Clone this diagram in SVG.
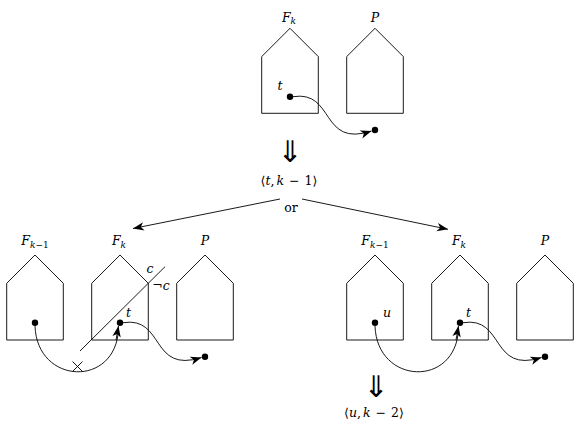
<svg xmlns="http://www.w3.org/2000/svg" xmlns:xlink="http://www.w3.org/1999/xlink" width="581" height="446" viewBox="0 0 581 446">
<style>
.h{fill:none;stroke:#000;stroke-width:0.9}
.ln{fill:none;stroke:#000;stroke-width:0.9}
text{font-family:'DejaVu Serif',serif;font-size:12.5px;fill:#000}
.i{font-style:italic}
.s{font-size:9px}
.d{fill:#000}
.arr{font-family:'DejaVu Sans',sans-serif;font-size:30px;font-weight:normal}
</style>
<defs>
<path id="house" d="M-28.3,28.3 L0,0 L28.3,28.3 L28.3,85 L-28.3,85 Z"/>
<marker id="st" viewBox="-12 -5 13 10" refX="0" refY="0" markerWidth="13" markerHeight="10" markerUnits="userSpaceOnUse" orient="auto">
<path d="M0,0 L-11,-4.2 L-8,0 L-11,4.2 Z" fill="#000"/>
</marker>
</defs>

<g id="top-Fk">
<use xlink:href="#house" class="h" transform="translate(290,28.3)"/>
<text x="289" y="21.5" text-anchor="middle"><tspan class="i">F</tspan><tspan class="s i" dy="2.5">k</tspan></text>
<circle class="d" cx="290" cy="96.7" r="3.2"/>
<text class="i" x="280" y="90" text-anchor="middle">t</text>
</g>
<g id="top-P">
<use xlink:href="#house" class="h" transform="translate(375,28.3)"/>
<text class="i" x="375" y="21.5" text-anchor="middle">P</text>
</g>
<g id="top-target"><circle class="d" cx="375" cy="130" r="3.2"/></g>

<g id="step1">
<text class="arr" x="290" y="162" text-anchor="middle">⇓</text>
<text x="289" y="185" text-anchor="middle">⟨<tspan class="i">t</tspan>,<tspan class="i" dx="2">k</tspan> <tspan dx="1">−</tspan> <tspan dx="1">1</tspan>⟩</text>
<text x="291" y="212" text-anchor="middle">or</text>
</g>

<g id="left-Fk1">
<use xlink:href="#house" class="h" transform="translate(35,255)"/>
<text x="35" y="245" text-anchor="middle"><tspan class="i">F</tspan><tspan class="s" dy="2.5"><tspan class="i">k</tspan>−1</tspan></text>
<circle class="d" cx="35" cy="322.7" r="3.2"/>
</g>
<g id="left-Fk">
<use xlink:href="#house" class="h" transform="translate(120,255)"/>
<text x="119" y="245" text-anchor="middle"><tspan class="i">F</tspan><tspan class="s i" dy="2.5">k</tspan></text>
<circle class="d" cx="120" cy="322.7" r="3.2"/>
<text class="i" x="128.5" y="317" text-anchor="middle">t</text>
</g>
<g id="left-P">
<use xlink:href="#house" class="h" transform="translate(205,255)"/>
<text class="i" x="205" y="245" text-anchor="middle">P</text>
</g>
<g id="left-target"><circle class="d" cx="205" cy="356.7" r="3.2"/></g>
<g id="cut">
<path class="ln" d="M80,351 L165,266.7"/>
<text class="i" x="150" y="273" text-anchor="middle">c</text>
<text x="161" y="290" text-anchor="middle">¬<tspan class="i">c</tspan></text>
</g>

<g id="right-Fk1">
<use xlink:href="#house" class="h" transform="translate(375,255)"/>
<text x="375" y="245" text-anchor="middle"><tspan class="i">F</tspan><tspan class="s" dy="2.5"><tspan class="i">k</tspan>−1</tspan></text>
<circle class="d" cx="375" cy="322.7" r="3.2"/>
<text class="i" x="387" y="317" text-anchor="middle">u</text>
</g>
<g id="right-Fk">
<use xlink:href="#house" class="h" transform="translate(460,255)"/>
<text x="459" y="245" text-anchor="middle"><tspan class="i">F</tspan><tspan class="s i" dy="2.5">k</tspan></text>
<circle class="d" cx="460" cy="322.7" r="3.2"/>
<text class="i" x="468.5" y="317" text-anchor="middle">t</text>
</g>
<g id="right-P">
<use xlink:href="#house" class="h" transform="translate(545,255)"/>
<text class="i" x="545" y="245" text-anchor="middle">P</text>
</g>
<g id="right-target"><circle class="d" cx="545" cy="356.7" r="3.2"/></g>
<g id="step2">
<text class="arr" x="376" y="397" text-anchor="middle">⇓</text>
<text x="374" y="417" text-anchor="middle">⟨<tspan class="i">u</tspan>,<tspan class="i" dx="2">k</tspan> <tspan dx="1">−</tspan> <tspan dx="1">2</tspan>⟩</text>
</g>

<g id="connectors">
<path class="ln" marker-end="url(#st)" d="M293,96.7 C335,90 320,148 371.5,131"/>
<path class="ln" marker-end="url(#st)" d="M280,199 L133,228.5"/>
<path class="ln" marker-end="url(#st)" d="M302,199 L448,229.3"/>
<path class="ln" d="M35,326 C37,385 116,388 118.5,329"/>
<path class="ln" marker-end="url(#st)" d="M116,340 L118.5,326"/>
<path class="ln" d="M72.5,361.5 L82.5,371.5 M72.5,371.5 L82.5,361.5"/>
<path class="ln" marker-end="url(#st)" d="M123,322.7 C165,316 150,374 201.5,357.5"/>
<path class="ln" d="M375,326 C377,385 456,388 458.5,329"/>
<path class="ln" marker-end="url(#st)" d="M456,340 L458.5,326"/>
<path class="ln" marker-end="url(#st)" d="M463,322.7 C505,316 490,374 541.5,357.5"/>
</g>
</svg>
